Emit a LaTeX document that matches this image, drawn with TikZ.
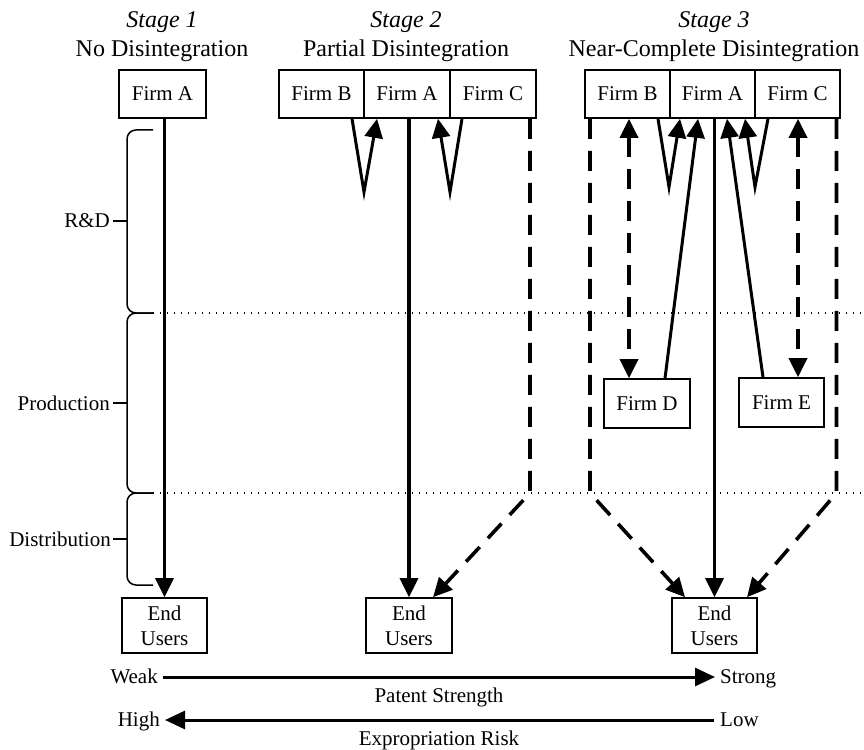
\documentclass[tikz,border=0pt]{standalone}
\usepackage{fontspec}
\setmainfont{Liberation Serif}
\usetikzlibrary{arrows.meta,calc}

\begin{document}
\begin{tikzpicture}[x=1pt,y=-1pt,
  txt/.style={font=\fontsize{21}{25}\selectfont, inner sep=0pt},
  ttl/.style={font=\fontsize{24}{28}\selectfont, inner sep=0pt, anchor=base},
  firm/.style={draw, line width=1.6pt, font=\fontsize{21}{25}\selectfont,
    inner sep=0pt, minimum height=48pt, align=center},
  users/.style={firm, minimum width=85pt, minimum height=55pt},
  flow/.style={line width=3.2pt, -{Triangle[length=19pt,width=18pt]}},
  vline/.style={line width=3pt, line join=miter, -{Triangle[length=19pt,width=18pt]}},
  dflow/.style={line width=3.6pt, dash pattern=on 20pt off 12pt,
    -{Triangle[length=19pt,width=18pt]}},
  ddflow/.style={line width=3.6pt, dash pattern=on 20pt off 12pt,
    {Triangle[length=19pt,width=18pt]}-{Triangle[length=19pt,width=18pt]}},
  brace/.style={line width=1.5pt, rounded corners=9pt},
  tick/.style={line width=1.6pt},
  sep/.style={line width=1.6pt, dash pattern=on 1.4pt off 5.6pt},
  axisline/.style={line width=3pt, -{Triangle[length=20pt,width=18pt]}}
]
\useasboundingbox (0,0) rectangle (864,749);

% ---- titles ----
\node[ttl] (t1a) at (162,28) {\textit{Stage 1}};
\node[ttl] (t1b) at (162,57) {No Disintegration};
\node[ttl] (t2a) at (406,28) {\textit{Stage 2}};
\node[ttl] (t2b) at (406,57) {Partial Disintegration};
\node[ttl] (t3a) at (714,28) {\textit{Stage 3}};
\node[ttl] (t3b) at (714,57) {Near-Complete Disintegration};

% ---- value-chain phases ----
\draw[brace] (153,130) -- (127,130) -- (127,313) -- (153,313);
\draw[brace] (153,313) -- (127,313) -- (127,493) -- (153,493);
\draw[brace] (153,493) -- (127,493) -- (127,585) -- (153,585);
\draw[tick] (127,221) -- (113,221);
\draw[tick] (127,403) -- (113,403);
\draw[tick] (127,539) -- (113,539);
\node[txt, anchor=east] (rd) at (110,221) {R\&D};
\node[txt, anchor=east] (prod) at (110,403) {Production};
\node[txt, anchor=east] (dist) at (111,539) {Distribution};
\draw[sep] (153,313) -- (864,313);
\draw[sep] (153,493) -- (864,493);

% ---- stage 1 ----
\node[firm, minimum width=87pt] (a1) at (162.5,94) {Firm A};
\node[users] (eu1) at (164.5,625.5) {End\\Users};
\draw[flow] (a1.south -| eu1.north) -- (eu1.north);

% ---- stage 2 ----
\node[firm, minimum width=85pt] (b2) at (321.5,94) {Firm B};
\node[firm, minimum width=86pt] (a2) at (407,94) {Firm A};
\node[firm, minimum width=86pt] (c2) at (493,94) {Firm C};
\node[users, minimum width=86pt] (eu2) at (409,625.5) {End\\Users};
\draw[vline] ($(b2.south)+(30.5,0)$) -- (364,192) -- ($(a2.south)+(-30,0)$);
\draw[vline] ($(c2.south)+(-31,0)$) -- (450,192) -- ($(a2.south)+(31,0)$);
\draw[flow] (a2.south -| eu2.north) -- (eu2.north);
\draw[dflow] ($(c2.south)+(37,0)$) -- (530,493) -- ($(eu2.north)+(24,0)$);

% ---- stage 3 ----
\node[firm, minimum width=85pt] (b3) at (627.5,94) {Firm B};
\node[firm, minimum width=85pt] (a3) at (712.5,94) {Firm A};
\node[firm, minimum width=85pt] (c3) at (797.5,94) {Firm C};
\node[firm, minimum width=86pt, minimum height=49pt] (d3) at (647,403.5) {Firm D};
\node[firm, minimum width=85pt, minimum height=49pt] (e3) at (781.5,402.5) {Firm E};
\node[users] (eu3) at (714.5,625.5) {End\\Users};

\draw[ddflow] ($(b3.south)+(1.5,0)$) -- ($(d3.north)+(-18,0)$);
\draw[ddflow] ($(c3.south)+(0.5,0)$) -- ($(e3.north)+(16.5,0)$);
\draw[vline] ($(b3.south)+(30.5,0)$) -- (669,187) -- ($(a3.south)+(-32.5,0)$);
\draw[vline] ($(c3.south)+(-29.5,0)$) -- (755,187) -- ($(a3.south)+(32.5,0)$);
\draw[vline] ($(d3.north)+(18,0)$) -- ($(a3.south)+(-14.5,0)$);
\draw[vline] ($(e3.north)+(-18.5,0)$) -- ($(a3.south)+(14.5,0)$);
\draw[flow] (a3.south -| eu3.north) -- (eu3.north);
\draw[dflow] ($(b3.south)+(-37.5,0)$) -- (590,493) -- ($(eu3.north)+(-29.5,0)$);
\draw[dflow] ($(c3.south)+(39,0)$) -- (836.5,493) -- ($(eu3.north)+(32.5,0)$);

% ---- scales ----
\node[txt, anchor=base east] (weak) at (158,683) {Weak};
\node[txt, anchor=base west] (strong) at (720,683) {Strong};
\node[txt, anchor=base] (ps) at (439,702) {Patent Strength};
\node[txt, anchor=base east] (high) at (160,726) {High};
\node[txt, anchor=base west] (low) at (720,726) {Low};
\node[txt, anchor=base] (er) at (439,745) {Expropriation Risk};
\coordinate (ws) at (163,677);
\coordinate (we) at (715,677);
\coordinate (ls) at (714,720);
\coordinate (le) at (165,720);
\draw[axisline] (ws) -- (we);
\draw[axisline] (ls) -- (le);
\end{tikzpicture}
\end{document}
